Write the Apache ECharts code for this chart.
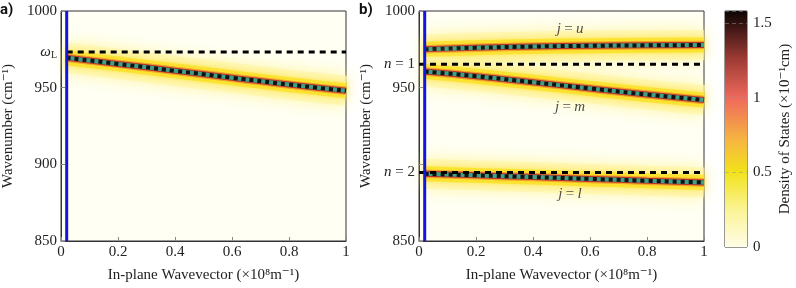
<!DOCTYPE html>
<html>
<head>
<meta charset="utf-8">
<script src="https://cdn.jsdelivr.net/npm/echarts@6/dist/echarts.min.js"></script>
<style>
  html, body { margin: 0; padding: 0; background: #fff; }
  #chart { width: 796px; height: 288px; }
</style>
</head>
<body>
<div id="chart"></div>
<script>
// data
const kPoints = [0.02, 0.2, 0.4, 0.6, 0.8, 1.0];
const branchA = [969.5, 965.5, 961, 956.5, 952, 948];   // panel a
const branchU = [975, 976, 976.8, 977.3, 977.6, 977.8];  // j = u
const branchM = [960.5, 957.5, 953.5, 949.5, 945.5, 942]; // j = m
const branchL = [893.8, 892.8, 891.7, 890.5, 889.3, 888.2]; // j = l
const omegaL = 973.3;
const nLevels = [965.2, 894.7]; // n = 1, n = 2
const lightK = 0.02;
const yTicksA = [850, 900, 950, 1000];
const yTicksB = [850, 950, 1000];
const cbMax = [1.58];
const jLabels = [["u", 0.53, 988], ["m", 0.53, 937.5], ["l", 0.53, 880.5]];

const serif = "'Liberation Serif', 'Times New Roman', 'DejaVu Serif', serif";
const chart = echarts.init(document.getElementById("chart"));

function pts(ys) {
  return kPoints.map((k, i) => [k, ys[i]]);
}

// glowing dispersion branch: yellow glow, red core, teal line, black dashes
function branch(ys, idx) {
  const d = pts(ys);
  const base = { type: "line", xAxisIndex: idx, yAxisIndex: idx, data: d, symbol: "none", silent: true, smooth: true };
  return [
    Object.assign({}, base, { lineStyle: { color: "rgba(255,245,170,0.7)", width: 30, shadowColor: "rgba(255,240,120,0.9)", shadowBlur: 16 } }),
    Object.assign({}, base, { lineStyle: { color: "rgba(252,226,40,0.85)", width: 15, shadowColor: "rgba(250,220,30,0.8)", shadowBlur: 6 } }),
    Object.assign({}, base, { lineStyle: { color: "#f3a22a", width: 8.5 } }),
    Object.assign({}, base, { lineStyle: { color: "#b8322a", width: 6 } }),
    Object.assign({}, base, { lineStyle: { color: "#3f9f87", width: 4 } }),
    Object.assign({}, base, { lineStyle: { color: "#111", width: 4, type: [4, 4] } }),
  ];
}

function dashed(y, x0, idx) {
  return { type: "line", xAxisIndex: idx, yAxisIndex: idx, data: [[x0, y], [1, y]], symbol: "none", silent: true,
    lineStyle: { color: "#000", width: 3, type: [6, 5] } };
}

function lightLine(idx) {
  return { type: "line", xAxisIndex: idx, yAxisIndex: idx, data: [[lightK, 850], [lightK, 1000]], symbol: "none", silent: true,
    lineStyle: { color: "#1414e0", width: 3 } };
}

const rich = {
  i: { fontFamily: serif, fontStyle: "italic", fontSize: 15, color: "#222" },
  r: { fontFamily: serif, fontSize: 15, color: "#222" },
  s: { fontFamily: serif, fontSize: 10, color: "#222", padding: [7, 0, 0, 0] },
};

const textStyle = { fontFamily: serif, fontSize: 15, color: "#222" };

function xAxisFor(idx) {
  return {
    type: "value", gridIndex: idx, min: 0, max: 1, interval: 0.2,
    name: "In-plane Wavevector (×10⁸m⁻¹)", nameLocation: "middle", nameGap: 27,
    nameTextStyle: textStyle,
    axisLine: { lineStyle: { color: "#333" } },
    axisTick: { inside: true, length: 4, lineStyle: { color: "#888" } },
    axisLabel: Object.assign({ margin: 4 }, textStyle),
    splitLine: { show: false },
  };
}

function yAxisFor(idx, ticks, extra) {
  const vals = ticks.concat(extra.map(e => e[0]));
  return {
    type: "value", gridIndex: idx, min: 850, max: 1000,
    name: "Wavenumber (cm⁻¹)", nameLocation: "middle", nameGap: 45,
    nameTextStyle: textStyle,
    axisLine: { lineStyle: { color: "#333" } },
    axisTick: { inside: true, length: 4, lineStyle: { color: "#888" }, customValues: [850, 900, 950, 1000] },
    axisLabel: Object.assign({
      margin: 4,
      customValues: vals,
      formatter: v => {
        const e = extra.find(x => Math.abs(x[0] - v) < 0.01);
        return e ? e[1] : String(v);
      },
      rich: rich,
    }, textStyle),
    splitLine: { show: false },
  };
}

const series = [];
// panel a
series.push(...branch(branchA, 0));
series.push(dashed(omegaL, lightK, 0));
series.push(lightLine(0));
// panel b
series.push(...branch(branchU, 1));
series.push(...branch(branchM, 1));
series.push(...branch(branchL, 1));
nLevels.forEach(y => series.push(dashed(y, 0, 1)));
series.push(lightLine(1));
// j labels
series.push({
  type: "scatter", xAxisIndex: 1, yAxisIndex: 1, symbolSize: 0, silent: true, z: 20,
  data: jLabels.map(j => ({ value: [j[1], j[2]], label: { formatter: "{i|j} {r|=} {i|" + j[0] + "}" } })),
  label: { show: true, position: "inside", rich: rich },
});
// colorbar
series.push({
  type: "bar", xAxisIndex: 2, yAxisIndex: 2, data: cbMax, barWidth: "100%", silent: true,
  itemStyle: {
    color: new echarts.graphic.LinearGradient(0, 1, 0, 0, [
      { offset: 0, color: "#fffde6" },
      { offset: 0.15, color: "#fbf49a" },
      { offset: 0.32, color: "#f2e21a" },
      { offset: 0.45, color: "#f6b640" },
      { offset: 0.63, color: "#ef6a5c" },
      { offset: 0.8, color: "#9c3a34" },
      { offset: 1, color: "#0c0404" },
    ]),
  },
});

const option = {
  animation: false,
  backgroundColor: "#fff",
  grid: [
    { left: 60, top: 11, width: 286, height: 236, show: true, borderColor: "#333", borderWidth: 1, backgroundColor: "#fffff4" },
    { left: 419, top: 11, width: 285, height: 236, show: true, borderColor: "#333", borderWidth: 1, backgroundColor: "#fffff4" },
    { left: 725, top: 11, width: 22, height: 236, show: true, borderColor: "#333", borderWidth: 1 },
  ],
  xAxis: [
    xAxisFor(0),
    xAxisFor(1),
    { type: "category", gridIndex: 2, data: ["c"], show: false },
  ],
  yAxis: [
    yAxisFor(0, yTicksA, [[omegaL, "{i|ω}{s|L}"]]),
    yAxisFor(1, yTicksB, [[nLevels[0], "{i|n} {r|= 1}"], [nLevels[1], "{i|n} {r|= 2}"]]),
    {
      type: "value", gridIndex: 2, position: "right", min: 0, max: cbMax[0], interval: 0.5,
      name: "Density of States (×10⁻¹cm)", nameLocation: "middle", nameGap: 31, nameRotate: 90,
      nameTextStyle: textStyle,
      axisLine: { show: false },
      axisTick: { show: false },
      axisLabel: Object.assign({ margin: 6, showMaxLabel: false }, textStyle),
      splitLine: { show: true, lineStyle: { color: "rgba(150,150,150,0.5)", type: [4, 3] } },
      z: 5,
    },
  ],
  graphic: [
    { type: "text", left: 0, top: 3, style: { text: "a)", font: "bold 15px Roboto", fill: "#111" } },
    { type: "text", left: 359, top: 3, style: { text: "b)", font: "bold 15px Roboto", fill: "#111" } },
  ],
  series: series,
};

chart.setOption(option);
</script>
</body>
</html>
